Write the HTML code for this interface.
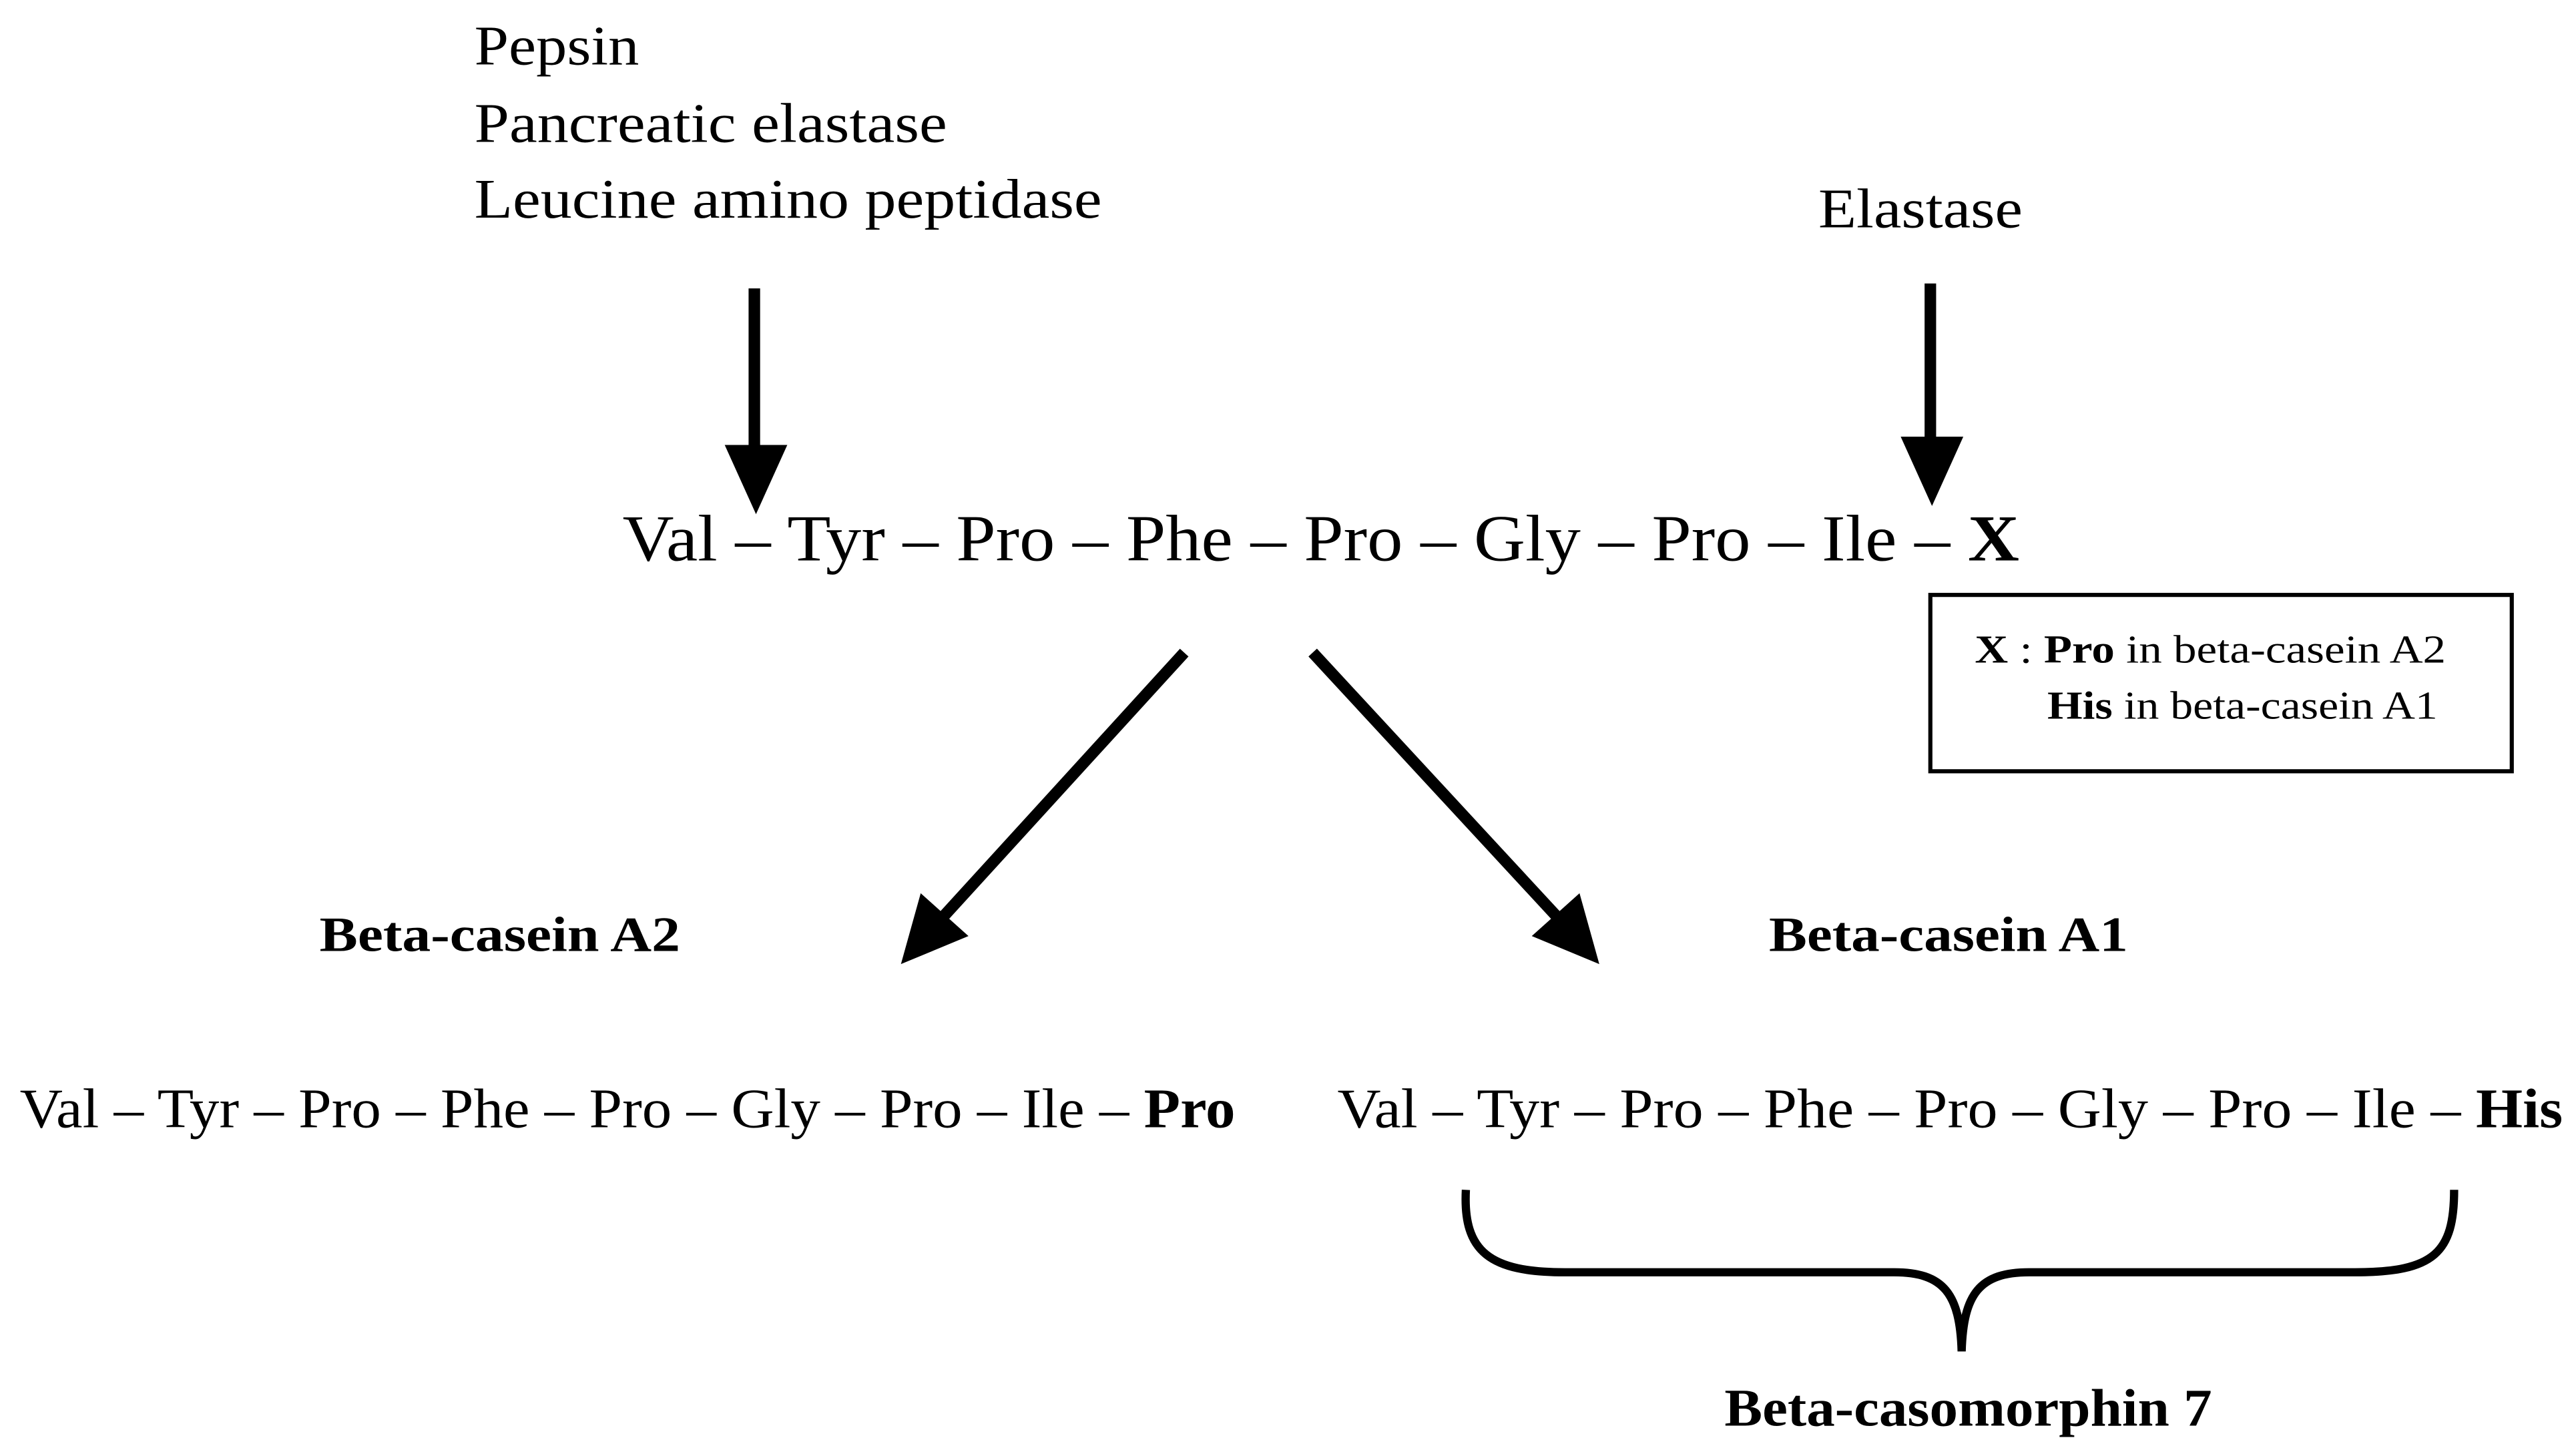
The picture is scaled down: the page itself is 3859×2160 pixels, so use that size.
<!DOCTYPE html>
<html><head><meta charset="utf-8"><style>html,body{margin:0;padding:0;background:#fff}svg{display:block}</style></head>
<body>
<svg width="3859" height="2160" viewBox="0 0 1564 875" preserveAspectRatio="none" xmlns="http://www.w3.org/2000/svg" font-family="Liberation Serif, serif" fill="#000">
<g font-size="34">
<text x="288" y="39" textLength="100" lengthAdjust="spacingAndGlyphs">Pepsin</text>
<text x="288" y="86" textLength="287" lengthAdjust="spacingAndGlyphs">Pancreatic elastase</text>
<text x="288" y="132" textLength="381" lengthAdjust="spacingAndGlyphs">Leucine amino peptidase</text>
<text x="1104" y="138" textLength="124" lengthAdjust="spacingAndGlyphs">Elastase</text>
</g>
<line x1="458" y1="175" x2="458" y2="272" stroke="#000" stroke-width="7"/>
<polygon points="440,270 478,270 459,312"/>
<line x1="1172" y1="172" x2="1172" y2="267" stroke="#000" stroke-width="7"/>
<polygon points="1154,265 1192,265 1173,307"/>
<text x="378" y="340" font-size="40" textLength="848" lengthAdjust="spacingAndGlyphs">Val – Tyr – Pro – Phe – Pro – Gly – Pro – Ile – <tspan font-weight="bold">X</tspan></text>
<rect x="1172" y="361" width="353" height="107" fill="none" stroke="#000" stroke-width="2.5"/>
<g font-size="24">
<text x="1199" y="402" textLength="286" lengthAdjust="spacingAndGlyphs"><tspan font-weight="bold">X</tspan> : <tspan font-weight="bold">Pro</tspan> in beta-casein A2</text>
<text x="1243" y="436" textLength="237" lengthAdjust="spacingAndGlyphs"><tspan font-weight="bold">His</tspan> in beta-casein A1</text>
</g>
<line x1="719" y1="396" x2="572" y2="557" stroke="#000" stroke-width="7"/>
<polygon points="547,585 559,542 588,568"/>
<line x1="797" y1="396" x2="946" y2="557" stroke="#000" stroke-width="7"/>
<polygon points="971,585 930,568 959,542"/>
<g font-size="30" font-weight="bold">
<text x="194" y="577" textLength="219" lengthAdjust="spacingAndGlyphs">Beta-casein A2</text>
<text x="1074" y="577" textLength="218" lengthAdjust="spacingAndGlyphs">Beta-casein A1</text>
</g>
<g font-size="34">
<text x="12" y="684" textLength="738" lengthAdjust="spacingAndGlyphs">Val – Tyr – Pro – Phe – Pro – Gly – Pro – Ile – <tspan font-weight="bold">Pro</tspan></text>
<text x="812" y="684" textLength="744" lengthAdjust="spacingAndGlyphs">Val  – Tyr – Pro – Phe – Pro – Gly – Pro – Ile – <tspan font-weight="bold">His</tspan></text>
</g>
<path d="M890,722 C888,760 905,772 950,772 L1150,772 C1180,772 1190,785 1191,820 C1192,785 1202,772 1232,772 L1430,772 C1478,772 1490,760 1490,722" fill="none" stroke="#000" stroke-width="5"/>
<text x="1047" y="865" font-size="32" font-weight="bold" textLength="296" lengthAdjust="spacingAndGlyphs">Beta-casomorphin 7</text>
</svg>
</body></html>
